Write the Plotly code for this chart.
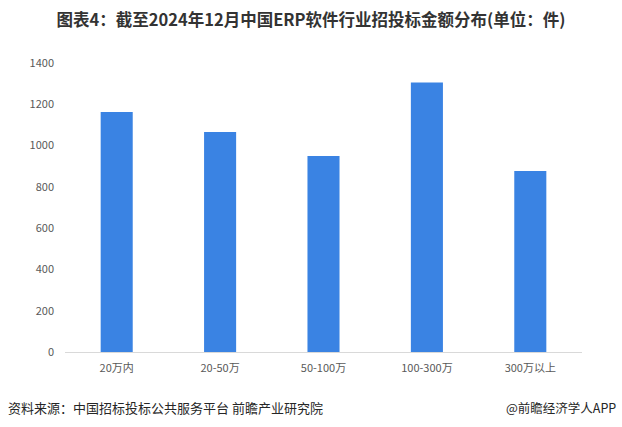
import plotly.graph_objects as go

categories = ["20万内", "20-50万", "50-100万", "100-300万", "300万以上"]
values = [1163, 1066, 950, 1305, 877]
y_ticks = [0, 200, 400, 600, 800, 1000, 1200, 1400]

title_text = "图表4：截至2024年12月中国ERP软件行业招投标金额分布(单位：件)"
source_text = "资料来源：中国招标投标公共服务平台 前瞻产业研究院"
brand_text = "@前瞻经济学人APP"

font_cjk = "Noto Sans CJK SC"

W, H = 622, 427
L, R, T, B = 65, 40, 63, 75
pw, ph = W - L - R, H - T - B


def px_x(x):
    return (x - L) / pw


def px_y(y):
    return (H - B - y) / ph


fig = go.Figure()
fig.add_trace(go.Bar(
    x=categories,
    y=values,
    marker=dict(color="#3a83e3", line=dict(width=0)),
    hoverinfo="x+y",
))

fig.update_layout(
    width=W,
    height=H,
    margin=dict(l=L, r=R, t=T, b=B, autoexpand=False),
    paper_bgcolor="white",
    plot_bgcolor="white",
    bargap=0.69,
    showlegend=False,
    font=dict(family=font_cjk, color="#595959", size=11),
    title=dict(
        text="<b>" + title_text + "</b>",
        x=0.5, xanchor="center",
        y=1 - 20 / H, yanchor="middle",
        font=dict(family=font_cjk, size=16.5, color="#333333"),
    ),
    xaxis=dict(
        showline=True,
        linecolor="#d9d9d9",
        linewidth=1,
        showgrid=False,
        ticks="",
        ticklabelstandoff=6,
        tickfont=dict(size=11, color="#595959"),
    ),
    yaxis=dict(
        range=[0, 1400],
        tickvals=y_ticks,
        showgrid=False,
        zeroline=False,
        showline=False,
        ticks="",
        ticklabelstandoff=10,
        tickfont=dict(size=11, color="#595959"),
    ),
    annotations=[
        dict(text=source_text, x=px_x(6), y=px_y(407), xref="paper", yref="paper",
             xanchor="left", yanchor="middle", showarrow=False,
             font=dict(family=font_cjk, size=13, color="#262626")),
        dict(text=brand_text, x=px_x(618), y=px_y(407), xref="paper", yref="paper",
             xanchor="right", yanchor="middle", showarrow=False,
             font=dict(family=font_cjk, size=12.5, color="#262626")),
    ],
)

fig.write_html("out.html", config={"displayModeBar": False},
               post_script="document.body.style.margin='0';")
